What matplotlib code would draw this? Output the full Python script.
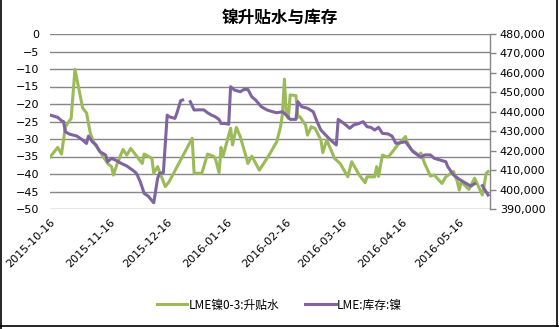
"""
镍升贴水与库存 —— LME 镍 0-3 升贴水（左轴）与 LME 镍库存（右轴）双轴折线图。
"""

import matplotlib
matplotlib.use("Agg")

import matplotlib.dates as mdates
import matplotlib.pyplot as plt
import numpy as np
import pandas as pd
from matplotlib.lines import Line2D
from matplotlib.ticker import FuncFormatter, MultipleLocator

plt.rcParams["font.family"] = ["DejaVu Sans", "Noto Sans CJK SC"]

TITULO = "镍升贴水与库存"
SERIE_BASIS = "LME镍0-3:升贴水"
SERIE_STOCK = "LME:库存:镍"

# --- Datos ---
fechas_basis = [
    "2015-10-16", "2015-10-20", "2015-10-22", "2015-10-24", "2015-10-27", "2015-10-29",
    "2015-11-02", "2015-11-04", "2015-11-06", "2015-11-08", "2015-11-11", "2015-11-15",
    "2015-11-17", "2015-11-18", "2015-11-20", "2015-11-23", "2015-11-25", "2015-11-27",
    "2015-11-29", "2015-12-03", "2015-12-04", "2015-12-08", "2015-12-09", "2015-12-11",
    "2015-12-12", "2015-12-15", "2015-12-17", "2015-12-29", "2015-12-30",
    "2016-01-03", "2016-01-06", "2016-01-09", "2016-01-10", "2016-01-12", "2016-01-13",
    "2016-01-14", "2016-01-18", "2016-01-19", "2016-01-21", "2016-01-23", "2016-01-26",
    "2016-01-27", "2016-01-29", "2016-02-02", "2016-02-07", "2016-02-11", "2016-02-13",
    "2016-02-14", "2016-02-15", "2016-02-16", "2016-02-17", "2016-02-18", "2016-02-21",
    "2016-02-22", "2016-02-23", "2016-02-26", "2016-02-27", "2016-02-29",
    "2016-03-02", "2016-03-05", "2016-03-06", "2016-03-08", "2016-03-11", "2016-03-12",
    "2016-03-15", "2016-03-19", "2016-03-21", "2016-03-25", "2016-03-28", "2016-03-29",
    "2016-04-02", "2016-04-03", "2016-04-04", "2016-04-06", "2016-04-09", "2016-04-14",
    "2016-04-18", "2016-04-19", "2016-04-21", "2016-04-25", "2016-04-26", "2016-04-28",
    "2016-05-01", "2016-05-03", "2016-05-07", "2016-05-09", "2016-05-13", "2016-05-15",
    "2016-05-16", "2016-05-17", "2016-05-21", "2016-05-24", "2016-05-28", "2016-05-29",
    "2016-05-30", "2016-05-31",
]
basis = [
    -35.2, -32.4, -34.3, -26.5, -24.1, -10.1,
    -21.2, -22.5, -28.4, -31.2, -33.6, -37.0,
    -37.9, -40.3, -37.0, -33.0, -34.6, -32.7,
    -34.1, -37.0, -34.3, -35.5, -39.8, -37.9,
    -39.3, -43.6, -42.2, -29.8, -39.8,
    -39.8, -34.3, -34.9, -35.5, -39.6, -32.4,
    -35.0, -26.9, -31.7, -26.7, -29.3, -35.0,
    -37.0, -34.9, -38.9, -34.6, -30.8, -26.5,
    -22.7, -12.9, -23.1, -24.1, -17.4, -17.6,
    -23.8, -23.6, -26.0, -28.9, -26.5,
    -27.0, -30.3, -33.9, -30.3, -34.1, -35.5,
    -37.0, -40.8, -36.5, -40.3, -42.5, -40.8,
    -40.8, -37.9, -40.7, -34.6, -35.2, -31.7,
    -29.3, -31.0, -33.1, -34.6, -34.0, -37.0,
    -40.6, -40.3, -42.7, -40.8, -39.3, -42.2,
    -44.6, -42.2, -44.4, -41.2, -46.0, -43.1,
    -39.8, -39.3,
]

fechas_stock = [
    "2015-10-16", "2015-10-20", "2015-10-22", "2015-10-23", "2015-10-24", "2015-10-26",
    "2015-10-30", "2015-11-02", "2015-11-04", "2015-11-05", "2015-11-07", "2015-11-09",
    "2015-11-11", "2015-11-14", "2015-11-15", "2015-11-17", "2015-11-19", "2015-11-22",
    "2015-11-25", "2015-11-28", "2015-11-30", "2015-12-02", "2015-12-04", "2015-12-06",
    "2015-12-09", "2015-12-11", "2015-12-12", "2015-12-14", "2015-12-16", "2015-12-17",
    "2015-12-20", "2015-12-21", "2015-12-23", "2015-12-24", "2015-12-27", "2015-12-28",
    "2015-12-30", "2016-01-01", "2016-01-04", "2016-01-06", "2016-01-08", "2016-01-10",
    "2016-01-12", "2016-01-13", "2016-01-15", "2016-01-17", "2016-01-18", "2016-01-20",
    "2016-01-23", "2016-01-25", "2016-01-27", "2016-01-29", "2016-01-31", "2016-02-03",
    "2016-02-06", "2016-02-09", "2016-02-11", "2016-02-14", "2016-02-16", "2016-02-18",
    "2016-02-21", "2016-02-22", "2016-02-24", "2016-02-27", "2016-03-01", "2016-03-03",
    "2016-03-05", "2016-03-08", "2016-03-10", "2016-03-12", "2016-03-13", "2016-03-14",
    "2016-03-17", "2016-03-20", "2016-03-22", "2016-03-24", "2016-03-27", "2016-03-29",
    "2016-03-31", "2016-04-02", "2016-04-04", "2016-04-06", "2016-04-09", "2016-04-11",
    "2016-04-13", "2016-04-15", "2016-04-18", "2016-04-20", "2016-04-22", "2016-04-26",
    "2016-04-28", "2016-05-01", "2016-05-03", "2016-05-06", "2016-05-09", "2016-05-10",
    "2016-05-13", "2016-05-16", "2016-05-19", "2016-05-22", "2016-05-24", "2016-05-26",
    "2016-05-28", "2016-05-31",
]
stock = [
    438300, 437150, 435400, 435000, 429750, 428560,
    427500, 425470, 423700, 427500, 424600, 422900,
    419450, 417760, 414300, 416050, 415200, 413500,
    412100, 410000, 408350, 404000, 398050, 396700,
    393200, 405760, 408350, 408700, 438300, 437450,
    436600, 439200, 445700, 446050, np.nan, 445200,
    440900, 441000, 441000, 439500, 438300, 437450,
    436000, 434000, 434000, 433600, 452900, 451200,
    450300, 451500, 451500, 447750, 446050, 442600,
    440900, 440000, 439500, 440000, 438300, 436100,
    436100, 445200, 442600, 441800, 440000, 434900,
    430600, 427500, 425500, 423800, 422900, 436100,
    434000, 431500, 433200, 433700, 434900, 432300,
    432000, 430600, 432000, 428900, 428600, 427500,
    423800, 424000, 424600, 422000, 419450, 416600,
    417800, 417800, 416050, 415200, 414300, 411800,
    407500, 405300, 403500, 401800, 403000, np.nan,
    402000, 397200,
]

ticks_x = ["2015-10-16", "2015-11-16", "2015-12-16", "2016-01-16",
           "2016-02-16", "2016-03-16", "2016-04-16", "2016-05-16"]

COLOR_BASIS = "#9BBB59"
COLOR_STOCK = "#8064A2"
COLOR_GRID = "#868686"


def main() -> None:
    fig = plt.figure(figsize=(5.59, 3.29), dpi=100)
    ax = fig.add_axes([50 / 559, 1 - 209 / 329, 440 / 559, 175 / 329])
    ax2 = ax.twinx()

    ax.plot(pd.to_datetime(fechas_basis), basis, color=COLOR_BASIS, lw=2.2,
            label=SERIE_BASIS, zorder=3)
    ax2.plot(pd.to_datetime(fechas_stock), stock, color=COLOR_STOCK, lw=2.2,
             label=SERIE_STOCK, zorder=3)

    # --- Ejes ---
    ax.set_xlim(pd.Timestamp("2015-10-16"), pd.Timestamp("2016-06-01"))
    ax.set_ylim(-50, 0)
    ax.yaxis.set_major_locator(MultipleLocator(5))
    ax2.set_ylim(390000, 480000)
    ax2.yaxis.set_major_locator(MultipleLocator(10000))
    ax2.yaxis.set_major_formatter(FuncFormatter(lambda v, _: f"{v:,.0f}"))

    ax.grid(axis="y", color=COLOR_GRID, lw=1.0)
    ax.set_axisbelow(True)
    for s in ["top", "left", "bottom"]:
        ax.spines[s].set_visible(False)
        ax2.spines[s].set_visible(False)
    ax.spines["right"].set_visible(False)
    ax2.spines["right"].set_color(COLOR_GRID)
    ax2.spines["right"].set_linewidth(1.0)

    ax.tick_params(axis="y", length=0, labelsize=8, pad=8)
    ax2.tick_params(axis="y", length=4, color=COLOR_GRID, width=1.0, labelsize=8, pad=3)

    ax.set_xticks(pd.to_datetime(ticks_x))
    ax.xaxis.set_major_formatter(mdates.DateFormatter("%Y-%m-%d"))
    ax.tick_params(axis="x", length=0, labelsize=8, pad=6)
    for lbl in ax.get_xticklabels():
        lbl.set_rotation(45)
        lbl.set_ha("right")
        lbl.set_va("top")
        lbl.set_rotation_mode("anchor")

    # --- Título y leyenda ---
    fig.text(0.5, 1 - 18 / 329, TITULO, ha="center", va="center", fontsize=12,
             fontweight="bold", family=["Noto Sans CJK SC", "DejaVu Sans"])

    handles = [Line2D([], [], color=COLOR_BASIS, lw=2.2),
               Line2D([], [], color=COLOR_STOCK, lw=2.2)]
    fig.legend(handles, [SERIE_BASIS, SERIE_STOCK], loc="center",
               bbox_to_anchor=(0.5, 1 - 305 / 329), ncol=2, frameon=False,
               handlelength=2.6, handletextpad=0.1, columnspacing=2.2,
               prop={"family": ["Noto Sans CJK SC", "DejaVu Sans"], "size": 8.5})

    # Marco del gráfico (izquierda, abajo, derecha)
    for xs, ys in [((1.5 / 559, 1.5 / 559), (0, 1)),
                   ((0, 1), (3 / 329, 3 / 329)),
                   ((557 / 559, 557 / 559), (3 / 329, 1))]:
        fig.add_artist(Line2D(xs, ys, color="black", lw=1.2, transform=fig.transFigure))

    fig.savefig("out.png", dpi=100)


if __name__ == "__main__":
    main()
